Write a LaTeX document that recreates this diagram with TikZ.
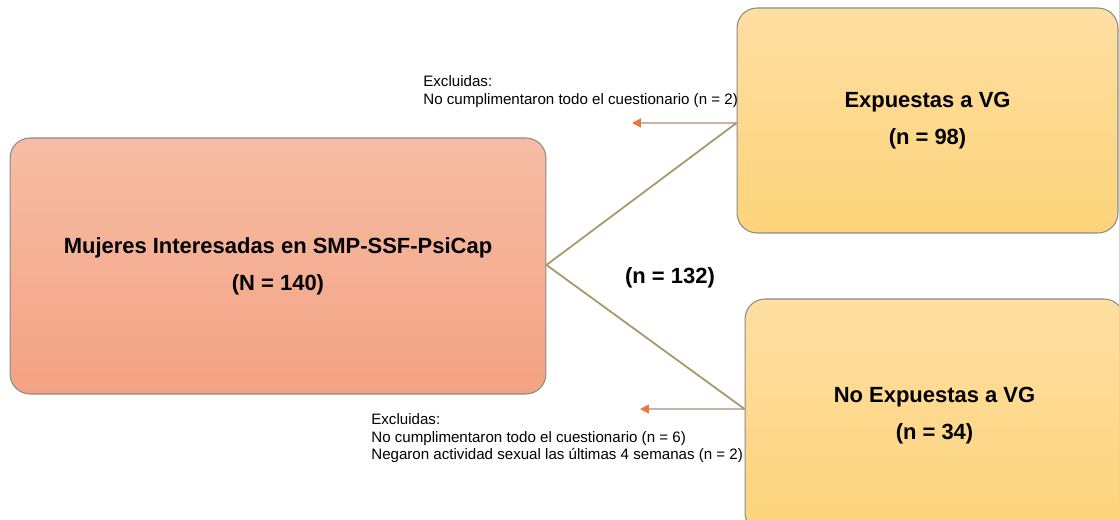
\documentclass[tikz,border=0pt]{standalone}
\usepackage{fontspec}
\setmainfont{Liberation Sans}
\usetikzlibrary{arrows.meta,calc}
\definecolor{salmonT}{HTML}{F6BDA5}
\definecolor{salmonB}{HTML}{F4A283}
\definecolor{goldT}{HTML}{FEDEA2}
\definecolor{goldB}{HTML}{FDD47A}
\definecolor{edgegrey}{HTML}{8A8A8A}
\definecolor{olive}{HTML}{A8976A}
\definecolor{brownln}{HTML}{A88A7C}
\definecolor{orangetip}{HTML}{E8793A}
\tikzset{
  box/.style={draw=edgegrey, line width=0.6pt, rounded corners=0.4cm, align=center,
    font=\fontsize{12.5}{21}\selectfont\bfseries, inner sep=0pt},
  salmonbox/.style={box, top color=salmonT, bottom color=salmonB},
  goldbox/.style={box, top color=goldT, bottom color=goldB},
  conn/.style={draw=olive, line width=1pt},
  excl/.style={draw=brownln, line width=0.7pt, -{Triangle[length=5pt,width=5pt,fill=orangetip,color=orangetip]}},
  note/.style={font=\fontsize{8.6}{10}\selectfont, align=left, anchor=west, inner sep=0pt},
  count/.style={font=\fontsize{12.5}{14}\selectfont\bfseries, inner sep=0pt}
}
\begin{document}
\begin{tikzpicture}[x=0.02cm,y=-0.02cm]
\useasboundingbox (0,0) rectangle (1119,520);
\clip (0,0) rectangle (1119,520);
\node[salmonbox, minimum width=10.72cm, minimum height=5.12cm] (mujeres) at (278,266)
  {Mujeres Interesadas en SMP-SSF-PsiCap\\(N = 140)};
\node[goldbox, minimum width=7.62cm, minimum height=4.5cm] (expuestas) at (927.5,120.5)
  {Expuestas a VG\\(n = 98)};
\node[goldbox, minimum width=7.58cm, minimum height=4.68cm] (noexp) at (934.5,416)
  {No Expuestas a VG\\(n = 34)};
\coordinate (ta) at ([yshift=-1.4pt]expuestas.west);
\coordinate (tb) at ([yshift=4pt]noexp.west);
\coordinate (ea) at (632,123);
\coordinate (eb) at (640,409);
\coordinate (src) at ([yshift=0.6pt]mujeres.east);
\draw[conn] (src) -- (ta);
\draw[conn] (src) -- (tb);
\draw[excl] (ta) -- (ea);
\draw[excl] (tb) -- (eb);
\node[count] (total) at (670,278) {(n = 132)};
\node[note] (exa) at (423,91.5) {Excluidas:\\No cumplimentaron todo el cuestionario (n = 2)};
\node[note] (exb) at (371,438.5) {Excluidas:\\No cumplimentaron todo el cuestionario (n = 6)\\Negaron actividad sexual las últimas 4 semanas (n = 2)};
\end{tikzpicture}
\end{document}
